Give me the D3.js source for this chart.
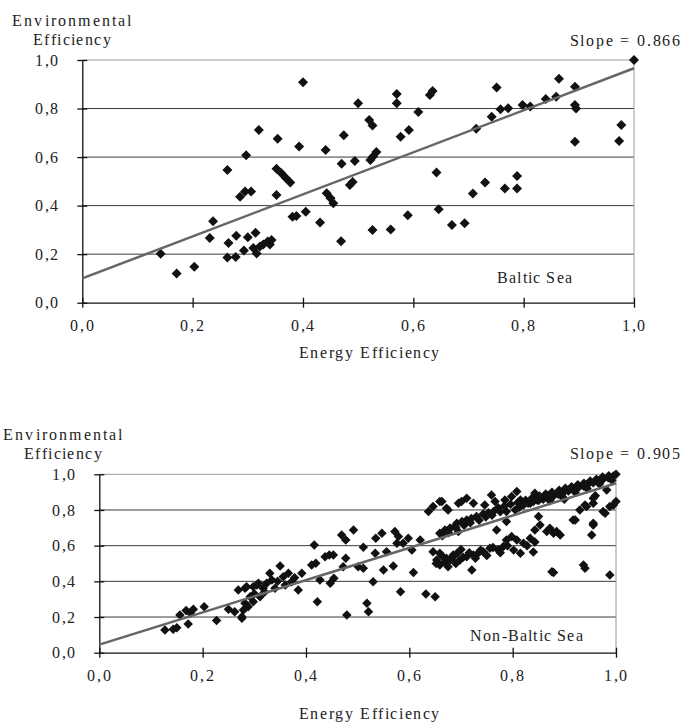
<!DOCTYPE html>
<html>
<head>
<meta charset="utf-8">
<script src="https://cdn.jsdelivr.net/npm/d3@7"></script>
<style>
  @font-face {
    font-family: "RefSerif";
    src: local("Liberation Serif"), local("LiberationSerif"), local("LiberationSerif-Regular"),
         local("Times New Roman"), local("DejaVu Serif"), local("DejaVuSerif");
  }
  body { margin: 0; background: #fff; }
</style>
</head>
<body>
<svg id="chart" width="683" height="726"></svg>
<script>
// tick values shared by both panels (axes run 0..1)
const tickValues = [0, 0.2, 0.4, 0.6, 0.8, 1.0];
const gridValues = [0.2, 0.4, 0.6, 0.8];
const FONT = 'RefSerif, "Liberation Serif", "DejaVu Serif", serif';

// regression lines
const balticSlope = 0.866, balticIntercept = 0.10;
const nonBalticSlope = 0.905, nonBalticIntercept = 0.045;

// Baltic Sea: [energy efficiency, environmental efficiency]
const balticPoints = [
  [0.142,0.202],[0.171,0.120],[0.203,0.148],[0.231,0.267],[0.237,0.336],[0.263,0.547],
  [0.265,0.246],[0.263,0.186],[0.278,0.188],[0.279,0.276],[0.297,0.608],[0.286,0.437],
  [0.295,0.458],[0.306,0.458],[0.293,0.215],[0.300,0.270],[0.310,0.225],[0.314,0.288],
  [0.316,0.203],[0.322,0.232],[0.328,0.240],[0.336,0.252],[0.340,0.240],[0.343,0.258],
  [0.320,0.712],[0.354,0.676],[0.352,0.444],[0.352,0.552],[0.361,0.533],[0.369,0.514],
  [0.377,0.495],[0.393,0.644],[0.400,0.908],[0.381,0.354],[0.388,0.357],[0.405,0.375],
  [0.431,0.330],[0.441,0.629],[0.443,0.451],[0.450,0.430],[0.455,0.410],[0.469,0.253],
  [0.474,0.690],[0.470,0.572],[0.485,0.485],[0.490,0.497],[0.494,0.584],[0.500,0.822],
  [0.520,0.753],[0.526,0.730],[0.522,0.588],[0.527,0.602],[0.533,0.621],[0.526,0.300],
  [0.559,0.302],[0.570,0.860],[0.570,0.822],[0.577,0.684],[0.592,0.712],[0.590,0.360],
  [0.609,0.786],[0.630,0.856],[0.635,0.872],[0.642,0.536],[0.646,0.385],[0.670,0.320],
  [0.693,0.327],[0.708,0.450],[0.714,0.717],[0.730,0.495],[0.742,0.766],[0.751,0.887],
  [0.758,0.797],[0.766,0.471],[0.772,0.801],[0.788,0.522],[0.788,0.471],[0.798,0.815],
  [0.812,0.808],[0.840,0.839],[0.859,0.849],[0.864,0.923],[0.893,0.890],[0.893,0.815],
  [0.895,0.800],[0.893,0.663],[0.977,0.732],[0.973,0.666],[1.000,1.000]
];

// Non-Baltic Sea
const nonBalticPoints = [
  [0.127,0.127],[0.143,0.131],[0.150,0.140],[0.172,0.161],[0.156,0.211],[0.168,0.236],
  [0.182,0.243],[0.176,0.222],[0.203,0.258],[0.227,0.180],[0.250,0.243],[0.262,0.230],
  [0.269,0.352],[0.282,0.361],[0.276,0.193],[0.279,0.239],[0.288,0.258],[0.298,0.286],
  [0.305,0.380],[0.276,0.202],[0.282,0.277],[0.285,0.370],[0.292,0.314],[0.298,0.370],
  [0.308,0.389],[0.311,0.314],[0.317,0.361],[0.324,0.389],[0.330,0.445],[0.334,0.408],
  [0.340,0.361],[0.350,0.486],[0.356,0.426],[0.366,0.445],[0.372,0.398],[0.385,0.352],
  [0.392,0.445],[0.300,0.330],[0.320,0.340],[0.345,0.400],[0.360,0.380],[0.378,0.420],
  [0.416,0.604],[0.411,0.492],[0.422,0.286],[0.427,0.408],[0.419,0.501],[0.437,0.538],
  [0.445,0.548],[0.453,0.548],[0.447,0.389],[0.454,0.417],[0.469,0.660],[0.477,0.632],
  [0.492,0.688],[0.477,0.529],[0.472,0.482],[0.479,0.211],[0.511,0.591],[0.501,0.482],
  [0.511,0.473],[0.518,0.277],[0.521,0.230],[0.530,0.398],[0.534,0.557],[0.535,0.641],
  [0.547,0.669],[0.550,0.464],[0.569,0.486],[0.556,0.566],[0.572,0.679],[0.579,0.651],
  [0.576,0.613],[0.583,0.342],[0.588,0.613],[0.598,0.641],[0.605,0.576],[0.608,0.449],
  [0.621,0.632],[0.632,0.329],[0.650,0.314],[0.637,0.791],[0.646,0.819],[0.659,0.847],
  [0.675,0.800],[0.695,0.838],[0.646,0.566],[0.653,0.520],[0.659,0.492],[0.669,0.510],
  [0.675,0.482],[0.685,0.538],[0.659,0.670],[0.669,0.688],[0.679,0.698],[0.688,0.707],
  [0.695,0.679],[0.663,0.847],[0.672,0.810],[0.701,0.847],[0.711,0.866],[0.724,0.838],
  [0.759,0.884],[0.766,0.847],[0.746,0.828],[0.785,0.856],[0.798,0.875],[0.808,0.903],
  [0.815,0.856],[0.843,0.894],[0.847,0.856],[0.834,0.838],[0.679,0.698],[0.692,0.726],
  [0.702,0.735],[0.711,0.744],[0.720,0.752],[0.730,0.763],[0.743,0.778],[0.753,0.784],
  [0.763,0.791],[0.776,0.790],[0.788,0.791],[0.805,0.800],[0.813,0.815],[0.821,0.828],
  [0.830,0.838],[0.840,0.847],[0.850,0.853],[0.859,0.860],[0.869,0.870],[0.879,0.879],
  [0.888,0.888],[0.898,0.897],[0.908,0.906],[0.917,0.916],[0.927,0.925],[0.937,0.935],
  [0.946,0.944],[0.956,0.953],[0.966,0.962],[0.975,0.972],[0.985,0.981],[0.995,0.991],
  [1.000,1.000],[0.659,0.557],[0.672,0.529],[0.685,0.548],[0.698,0.520],[0.711,0.538],
  [0.721,0.464],[0.724,0.548],[0.733,0.557],[0.743,0.566],[0.756,0.585],[0.772,0.576],
  [0.782,0.595],[0.788,0.632],[0.798,0.651],[0.808,0.632],[0.815,0.557],[0.821,0.613],
  [0.834,0.641],[0.843,0.688],[0.850,0.763],[0.853,0.716],[0.866,0.679],[0.879,0.670],
  [0.892,0.660],[0.769,0.688],[0.788,0.735],[0.917,0.744],[0.930,0.800],[0.943,0.819],
  [0.956,0.838],[0.956,0.726],[0.953,0.660],[0.975,0.791],[0.988,0.819],[1.000,0.847],
  [0.879,0.449],[0.940,0.473],[0.988,0.436],[0.982,0.912],[0.960,0.880],[0.900,0.860],
  // thicker parts of the dense bands
  [0.664,0.655],[0.676,0.672],[0.690,0.700],[0.706,0.715],[0.718,0.728],[0.735,0.742],
  [0.748,0.760],[0.760,0.770],[0.772,0.812],[0.784,0.822],[0.796,0.832],[0.810,0.842],
  [0.825,0.855],[0.838,0.868],[0.852,0.878],[0.864,0.890],[0.876,0.900],[0.890,0.910],
  [0.902,0.922],[0.914,0.930],[0.926,0.942],[0.938,0.950],[0.950,0.962],[0.962,0.972],
  [0.974,0.985],[0.986,0.992],[0.872,0.852],[0.896,0.874],[0.921,0.900],[0.944,0.920],
  [0.968,0.946],[0.992,0.966],[0.921,0.744],[0.956,0.716],[0.979,0.782],[0.995,0.828],
  [0.885,0.679],[0.872,0.698],[0.956,0.866],[0.940,0.828],[0.876,0.454],[0.937,0.492],
  [0.664,0.540],[0.680,0.520],[0.692,0.556],[0.704,0.535],[0.716,0.560],[0.728,0.530],
  [0.738,0.575],[0.750,0.545],[0.762,0.590],[0.776,0.560],[0.790,0.600],[0.802,0.575],
  [0.828,0.600],[0.840,0.565],[0.843,0.620],[0.700,0.578],[0.690,0.500],[0.652,0.500]
];

const svg = d3.select('#chart');

// one panel = one scatter with its regression line
const drawPanel = function(cfg) {
  const x = d3.scaleLinear().domain([0, 1]).range([cfg.left, cfg.right]);
  const y = d3.scaleLinear().domain([0, 1]).range([cfg.bottom, cfg.top]);
  const g = svg.append('g');

  // gridlines
  g.selectAll('line.grid')
    .data(gridValues)
    .join('line')
    .attr('x1', cfg.left).attr('x2', cfg.right)
    .attr('y1', d => y(d)).attr('y2', d => y(d))
    .attr('stroke', '#3a3a3a').attr('stroke-width', 1);

  // top + right border of plot area
  g.append('path')
    .attr('d', `M${cfg.left},${y(1)}H${x(1)}V${y(0)}`)
    .attr('fill', 'none').attr('stroke', '#9a9a9a').attr('stroke-width', 1);

  // axes
  const fmt = d => d3.format('.1f')(d).replace('.', ',');
  const xAxis = g.append('g')
    .attr('transform', `translate(0,${cfg.bottom})`)
    .call(d3.axisBottom(x).tickValues(tickValues).tickFormat(fmt).tickSizeInner(5).tickSizeOuter(0).tickPadding(12));
  const yAxis = g.append('g')
    .attr('transform', `translate(${cfg.left},0)`)
    .call(d3.axisLeft(y).tickValues(tickValues).tickFormat(fmt).tickSizeInner(5).tickSizeOuter(0).tickPadding(17));

  [xAxis, yAxis].forEach(a => {
    a.attr('font-family', null).attr('font-size', null);
    a.select('.domain').attr('stroke', '#111').attr('stroke-width', 1.3);
    a.selectAll('.tick line').attr('stroke', '#111').attr('stroke-width', 1.3);
    a.selectAll('text')
      .style('font-family', FONT)
      .style('font-size', '16px').attr('fill', '#222')
      .style('letter-spacing', '1.8px');
  });
  // ticks cross the axis lines
  xAxis.selectAll('.tick line').attr('y1', -5);
  yAxis.selectAll('.tick line').attr('x1', 5);

  // points
  g.selectAll('path.pt')
    .data(cfg.points)
    .join('path')
    .attr('d', d3.symbol(d3.symbolSquare, cfg.markSize))
    .attr('transform', d => `translate(${x(d[0])},${y(d[1])}) rotate(45)`)
    .attr('fill', '#111');

  // regression line
  const line = d3.line().x(d => x(d)).y(d => y(cfg.intercept + cfg.slope * d));
  g.append('path')
    .attr('d', line([0, 1]))
    .attr('fill', 'none').attr('stroke', '#666').attr('stroke-width', 2.5);

  // texts
  const txt = (s, tx, ty, anchor, sp) => g.append('text')
    .attr('x', tx).attr('y', ty).attr('text-anchor', anchor)
    .style('font-family', FONT).style('font-size', '16px').attr('fill', '#222')
    .style('letter-spacing', sp || '1.8px').text(s);

  txt('Environmental', cfg.titleX, cfg.titleY, 'start', '2.2px');
  txt('Efficiency', cfg.titleX + 21, cfg.titleY + 19, 'start', '1.4px');
  txt(cfg.slopeLabel, 682, cfg.slopeY, 'end', '1.8px');
  txt(cfg.label, cfg.labelX, cfg.labelY, 'start', '1.2px');
  txt('Energy  Efficiency', 370, cfg.xTitleY, 'middle', '1.6px');
};

drawPanel({
  points: balticPoints, slope: balticSlope, intercept: balticIntercept,
  left: 82.3, right: 634, top: 60, bottom: 302.7,
  markSize: 50,
  titleX: 12, titleY: 26,
  slopeLabel: 'Slope = 0.866', slopeY: 46,
  label: 'Baltic Sea', labelX: 497, labelY: 283,
  xTitleY: 358
});

drawPanel({
  points: nonBalticPoints, slope: nonBalticSlope, intercept: nonBalticIntercept,
  left: 99.3, right: 616, top: 474.3, bottom: 652.7,
  markSize: 45,
  titleX: 3, titleY: 440,
  slopeLabel: 'Slope = 0.905', slopeY: 459,
  label: 'Non-Baltic Sea', labelX: 470, labelY: 641,
  xTitleY: 719
});
</script>
</body>
</html>
